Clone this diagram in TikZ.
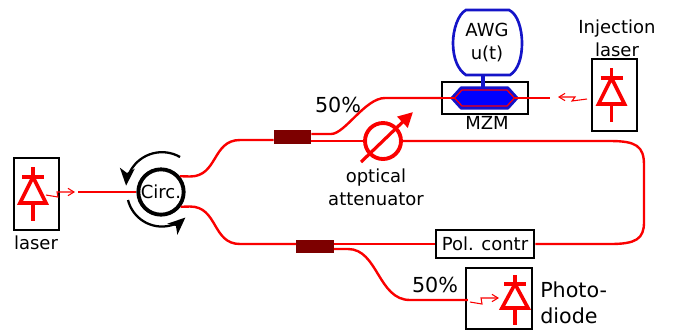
\documentclass[tikz,border=0pt]{standalone}
\usepackage{fontspec}
\setmainfont{DejaVu Sans}
\usetikzlibrary{arrows.meta}
\definecolor{fib}{RGB}{250,0,0}
\definecolor{coup}{RGB}{125,0,0}
\definecolor{awgblue}{RGB}{20,20,200}
\tikzset{
  x=0.75pt,y=-0.75pt,
  fiber/.style={draw=fib,line width=1.8pt},
  wig/.style={draw=fib,line width=0.8pt,-{Straight Barb[length=4.5pt,width=5.5pt]}},
  devbox/.style={draw=black,line width=1.7pt,fill=white,inner sep=0pt,minimum width=#1},
  diodeline/.style={draw=fib,line width=2.7pt},
  coupler/.style={fill=coup,draw=none,inner sep=0pt,minimum width=28pt,minimum height=10.2pt},
  lab/.style={font=\fontsize{13.5}{16.5}\selectfont,align=center,inner sep=0pt},
  biglab/.style={font=\fontsize{15.5}{19}\selectfont,inner sep=0pt},
  circarrow/.style={draw=black,line width=1.7pt,-{Stealth[length=13pt,width=11pt,inset=3.5pt]}}
}
\begin{document}
\begin{tikzpicture}
\useasboundingbox (0,0) rectangle (673,330);
% boxes
\node[devbox=33.8pt,minimum height=54pt] (laserbox) at (36.5,194) {};
\node[devbox=33.8pt,minimum height=54pt] (injbox) at (614.5,95) {};
\node[devbox=49.5pt,minimum height=45.7pt] (pdbox) at (499,298.5) {};
\node[devbox=64.5pt,minimum height=24pt] (mzmbox) at (485,98) {};
\node[devbox=73.5pt,minimum height=21pt,lab,line width=1.9pt] (pol) at (485,244) {Pol. contr};
% fibres
\node[coupler] (c1) at (292.5,137) {};
\node[coupler] (c2) at (315,246.5) {};
\node[circle,draw=black,line width=2.9pt,fill=white,minimum size=34pt,inner sep=0pt,font=\fontsize{13.5}{16}\selectfont] (circ) at (161,192) {Circ.};
\node[circle,draw=fib,line width=2.9pt,fill=white,minimum size=27pt,inner sep=0pt] (att) at (383,141) {};
\coordinate (in0) at (78,192);
\coordinate (mzmend) at (550,98);
\draw[fiber] (in0) -- (circ.west);
\draw[fiber] (circ.40) -- (190,176.5) .. controls (218,176.5) and (212,140) .. (240,140) -- (c1.west |- 0,140);
\draw[fiber] (circ.-37) -- (190,206.5) .. controls (218,206.5) and (212,244) .. (240,244) -- (c2.west |- 0,244);
\draw[fiber] (c1.east |- 0,134) -- (331,134) .. controls (345,134) and (365,98) .. (385,98) -- (mzmbox.west);
\draw[fiber] (c1.east |- 0,141) -- (att.west);
\draw[fiber] (att.east) -- (610,141) .. controls (636,141) and (644,146) .. (644,165) -- (644,222) .. controls (644,239) and (636,244) .. (610,244) -- (pol.east);
\draw[fiber] (pol.west) -- (c2.east |- 0,244);
\draw[fiber] (c2.east |- 0,249) -- (348,249) .. controls (378,249) and (378,300) .. (410,300) -- (pdbox.west |- 0,300) -- ++(3,0);
% attenuator arrow
\coordinate (attA) at (361,162);
\coordinate (attB) at (412,113);
\draw[draw=fib,line width=2.4pt,-{Triangle[length=11pt,width=11pt]},shorten >=-1pt] (attA) -- (attB);
% MZM
\draw[fill=blue,draw=awgblue,line width=1.6pt,line join=round] (461,87.5) -- (508,87.5) -- (517.5,98) -- (508,108.5) -- (461,108.5) -- (451.5,98) -- cycle;
\node[inner sep=0pt,minimum size=0pt] (mzmtop) at (483,88) {};
\draw[fill=blue,draw=fib,line width=0.95pt] (462,90) -- (507,90) -- (514.5,98) -- (507,106) -- (462,106) -- (454.5,98) -- cycle;
\draw[fiber] (mzmbox.west) -- (454,98);
\draw[fiber] (515,98) -- (mzmend);
% AWG
\draw[draw=awgblue,line width=2pt,fill=white] (466,10) -- (509,10) .. controls (518,14) and (522,30) .. (522,43) .. controls (522,58) and (518,70) .. (510,75) -- (466,75) .. controls (458,70) and (453,58) .. (453,43) .. controls (453,30) and (458,14) .. (466,10) -- cycle;
\coordinate (awgb) at (483,75);
\draw[draw=awgblue,line width=2.4pt] (awgb) -- (mzmtop);
\node[lab] (awg) at (487,42.5) {AWG\\[1pt]u(t)};
% diodes
\newcommand{\diodeat}[5]{% x, bar y, top y, base y, bottom y
\draw[diodeline,line join=miter] (#1-13,#4) -- (#1,#2) -- (#1+13,#4) -- cycle;
\draw[diodeline] (#1,#3) -- (#1,#2);
\draw[diodeline] (#1-11,#2) -- (#1+11,#2);
\draw[diodeline] (#1,#4) -- (#1,#5);}
\diodeat{33}{177}{167}{203}{221}
\diodeat{611.5}{78}{68}{104}{122}
\diodeat{515}{284}{275}{308}{325}
% wiggles
\draw[wig] (46,195) -- (58,197) -- (57,192) -- (75,192);
\draw[wig] (587,99) -- (572,101) -- (575,97) -- (558,97);
\draw[wig] (470,302) -- (482,304) -- (481,298) -- (499,298);
% circulator arrows
\draw[circarrow] (180,157) arc[start angle=-60,end angle=-176,radius=36];
\draw[circarrow] (128,200) arc[start angle=166,end angle=48,radius=35];
% labels
\node[lab] (l1) at (36,243) {laser};
\node[biglab] (p1) at (338,105) {50\%};
\node[biglab] (p2) at (435,285) {50\%};
\node[lab] (l2) at (376,187) {optical\\[1pt]attenuator};
\node[lab] (l3) at (487,123) {MZM};
\node[lab] (l4) at (617,38) {Injection\\[1pt]laser};
\node[biglab,anchor=west] (l5) at (540,290) {Photo-};
\node[biglab,anchor=west] (l6) at (540,316) {diode};
\end{tikzpicture}
\end{document}
